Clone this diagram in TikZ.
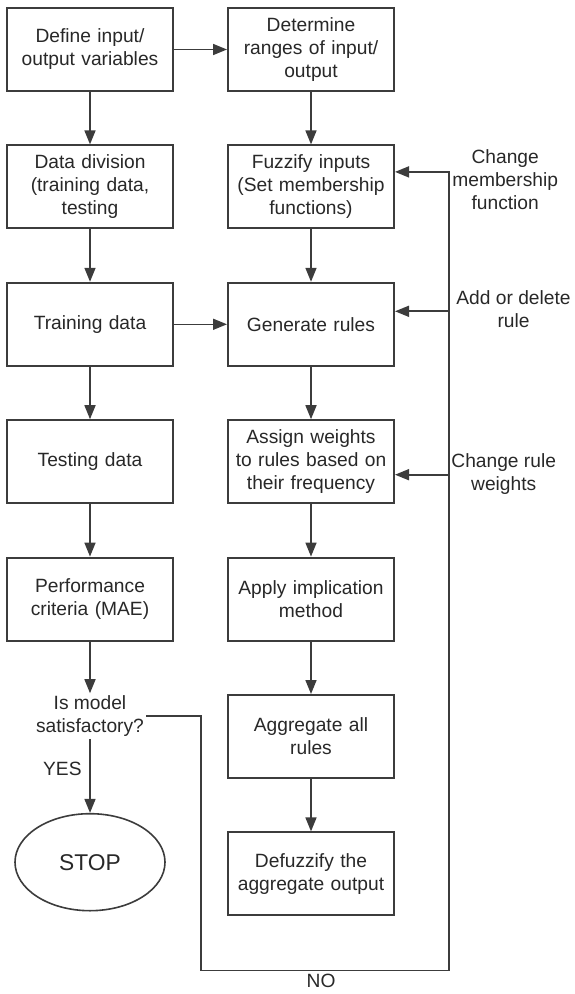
\documentclass[tikz,border=0pt]{standalone}
\usepackage{fontspec}
\setmainfont{Liberation Sans}
\usetikzlibrary{positioning,arrows.meta,shapes,calc}
\definecolor{LineGray}{RGB}{60,60,60}
\definecolor{DarkText}{RGB}{40,40,40}

\begin{document}
\begin{tikzpicture}[
    box/.style={rectangle, draw=LineGray, line width=1pt, fill=white,
        minimum width=83pt, minimum height=41.5pt, text width=80pt, inner sep=0pt,
        font=\fontsize{9.6}{11.5}\selectfont, align=center, text=DarkText},
    lbl/.style={align=center, inner sep=1pt, font=\fontsize{9.6}{11.5}\selectfont, text=DarkText},
    stopnode/.style={ellipse, draw=LineGray, line width=0.8pt, minimum width=75pt,
        minimum height=48.5pt, inner sep=0pt, font=\fontsize{11.4}{13}\selectfont, text=DarkText},
    arr/.style={-{Triangle[length=7pt, width=5.5pt]}, line width=0.8pt, LineGray},
]
\useasboundingbox (0,0) rectangle (287pt,-497pt);

% left column
\node[box] (def) at (45pt,-24.75pt) {Define input/\\output variables};
\node[box, below=26.2pt of def] (div) {Data division\\(training data,\\testing};
\node[box, below=26.2pt of div] (train) {Training data};
\node[box, below=26.2pt of train] (test) {Testing data};
\node[box, below=26.2pt of test] (perf) {Performance\\criteria (MAE)};
\node[lbl, below=25.8pt of perf] (sat) {Is model\\satisfactory?};
\node[stopnode, below=37pt of sat] (stop) {STOP};

% right column
\node[box, right=26.5pt of def] (det) {Determine\\ranges of input/\\output};
\node[box, below=26.2pt of det] (fuzz) {Fuzzify inputs\\(Set membership\\functions)};
\node[box, below=26.2pt of fuzz] (gen) {Generate rules};
\node[box, below=26.2pt of gen] (assign) {Assign weights\\to rules based on\\their frequency};
\node[box, below=26.2pt of assign] (impl) {Apply implication\\method};
\node[box, below=26.2pt of impl] (aggr) {Aggregate all\\rules};
\node[box, below=26.2pt of aggr] (defuzz) {Defuzzify the\\aggregate output};

% feedback loop
\coordinate[right=27.5pt of sat.east] (nl);
\coordinate[below right=27pt and 27pt of defuzz.south east] (nr);
\coordinate (fbfuzz) at ([yshift=7.5pt]fuzz.east);
\coordinate (fbgen) at ([yshift=6.5pt]gen.east);
\coordinate (fbassign) at ([yshift=-6.5pt]assign.east);

\node[lbl, anchor=west] (lblmem) at ($(nr |- fbfuzz)+(0.5pt,-4pt)$) {Change\\membership\\function};
\node[lbl, anchor=west] (lblrule) at ($(nr |- fbgen)+(2.5pt,1pt)$) {Add or delete\\rule};
\node[lbl, anchor=west] (lblweight) at ($(nr |- fbassign)+(0pt,0.5pt)$) {Change rule\\weights};
\node[lbl, anchor=base] (no) at ($(nl |- nr)!0.5!(nr)+(-2pt,-8.6pt)$) {NO};
\node[lbl, anchor=east] (yes) at ($(sat.south)!0.4!(stop.north)+(-3pt,0)$) {YES};

\draw[arr] (def) -- (div);
\draw[arr] (div) -- (train);
\draw[arr] (train) -- (test);
\draw[arr] (test) -- (perf);
\draw[arr] (perf) -- (sat);
\draw[arr] (sat) -- (stop);

\draw[arr] (det) -- (fuzz);
\draw[arr] (fuzz) -- (gen);
\draw[arr] (gen) -- (assign);
\draw[arr] (assign) -- (impl);
\draw[arr] (impl) -- (aggr);
\draw[arr] (aggr) -- (defuzz);

\draw[arr] (def) -- (det);
\draw[arr] (train) -- (gen);

\draw[arr] (sat.east) -- (nl) |- (nr) |- (fbfuzz);
\draw[arr] (nr |- fbgen) -- (fbgen);
\draw[arr] (nr |- fbassign) -- (fbassign);
\end{tikzpicture}
\end{document}
